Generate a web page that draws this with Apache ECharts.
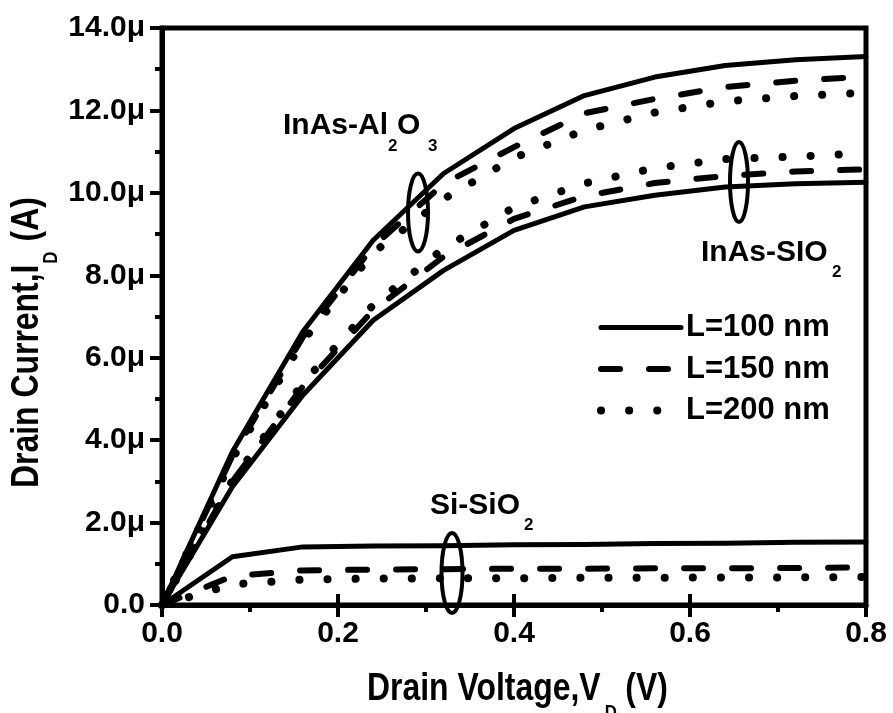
<!DOCTYPE html>
<html>
<head>
<meta charset="utf-8">
<script src="https://cdn.jsdelivr.net/npm/echarts@6/dist/echarts.min.js"></script>
<style>
html,body{margin:0;padding:0;background:#fff;}
#chart{width:893px;height:713px;}
</style>
</head>
<body>
<div id="chart"></div>
<script>
// Drain voltage (V)
const voltage = [0, 0.08, 0.16, 0.24, 0.32, 0.40, 0.48, 0.56, 0.64, 0.72, 0.80];
// Drain current (μA)
const inasAl2o3_L100 = [0, 3.72, 6.63, 8.85, 10.47, 11.56, 12.36, 12.81, 13.09, 13.23, 13.31];
const inasAl2o3_L150 = [0, 3.62, 6.50, 8.70, 10.22, 11.11, 11.93, 12.28, 12.57, 12.72, 12.82];
const inasAl2o3_L200 = [0, 3.55, 6.40, 8.55, 9.85, 10.85, 11.52, 11.95, 12.22, 12.35, 12.43];
const inasSio2_L100 = [0, 2.87, 5.09, 6.91, 8.12, 9.09, 9.66, 9.94, 10.14, 10.22, 10.26];
const inasSio2_L150 = [0, 3.00, 5.30, 7.15, 8.45, 9.37, 9.92, 10.24, 10.41, 10.52, 10.57];
const inasSio2_L200 = [0, 3.02, 5.38, 7.28, 8.65, 9.65, 10.23, 10.60, 10.82, 10.88, 10.96];
const siSio2_L100 = [0, 1.17, 1.41, 1.43, 1.44, 1.46, 1.47, 1.49, 1.50, 1.52, 1.53];
const siSio2_L150 = [0, 0.70, 0.84, 0.86, 0.87, 0.88, 0.88, 0.89, 0.89, 0.90, 0.91];
const siSio2_L200 = [0, 0.50, 0.62, 0.64, 0.65, 0.65, 0.66, 0.66, 0.67, 0.67, 0.68];

const legendNames = ['L=100 nm', 'L=150 nm', 'L=200 nm'];
const xTickValues = [0, 0.2, 0.4, 0.6, 0.8];
const yTickValues = [0, 2, 4, 6, 8, 10, 12, 14];

const FONT = '"Liberation Sans", Arial, Helvetica, sans-serif';

const styles = [
  {color: '#000', width: 5, type: 'solid', cap: 'round', join: 'round'},
  {color: '#000', width: 6, type: [19, 29], cap: 'round', join: 'round'},
  {color: '#000', width: 8, type: [0.1, 28], cap: 'round', join: 'round'}
];

function mk(name, arr, st) {
  return {
    name: name, type: 'line', symbol: 'none', showSymbol: false,
    data: voltage.map((v, i) => [v, arr[i]]),
    lineStyle: st, itemStyle: {color: '#000'}, z: 3, animation: false
  };
}

const groups = [
  [inasAl2o3_L100, inasAl2o3_L150, inasAl2o3_L200],
  [inasSio2_L100, inasSio2_L150, inasSio2_L200],
  [siSio2_L100, siSio2_L150, siSio2_L200]
];
const series = [];
groups.forEach(g => g.forEach((arr, k) => series.push(mk(legendNames[k], arr, styles[k]))));

const chart = echarts.init(document.getElementById('chart'), null, {renderer: 'canvas'});

const labelFont = {fontFamily: FONT, fontWeight: 'bold', fill: '#000'};
function txt(x, y, s, size, extra) {
  return Object.assign({type: 'text', x: x, y: y, z: 20,
    style: Object.assign({text: s, fontSize: size, align: 'left', verticalAlign: 'middle'}, labelFont)}, extra || {});
}
function ell(cx, cy, rx, ry) {
  return {type: 'ellipse', z: 20, shape: {cx: cx, cy: cy, rx: rx, ry: ry},
    style: {fill: 'none', stroke: '#000', lineWidth: 4}};
}

const option = {
  animation: false,
  backgroundColor: '#fff',
  grid: {left: 162, top: 28, width: 704, height: 577, show: true, borderColor: '#000', borderWidth: 5,
    backgroundColor: 'transparent', containLabel: false, outerBoundsMode: 'none'},
  xAxis: [{
    type: 'value', min: 0, max: 0.8, interval: 0.2, position: 'bottom',
    axisLine: {show: true, onZero: false, lineStyle: {color: '#000', width: 5}},
    axisTick: {show: true, inside: false, length: 12, lineStyle: {color: '#000', width: 4}},
    minorTick: {show: true, splitNumber: 2, length: 7, lineStyle: {color: '#000', width: 4}},
    axisLabel: {margin: 14, color: '#000', fontFamily: FONT, fontWeight: 'bold', fontSize: 30,
      formatter: v => v.toFixed(1)},
    splitLine: {show: false}, minorSplitLine: {show: false}
  }, {
    type: 'value', min: 0, max: 0.8, interval: 0.2, position: 'top', offset: -577,
    axisLine: {show: false},
    axisTick: {show: true, inside: false, length: 11, lineStyle: {color: '#000', width: 4}},
    axisLabel: {show: false}, splitLine: {show: false}
  }],
  yAxis: {
    type: 'value', min: 0, max: 14, interval: 2,
    axisLine: {show: true, onZero: false, lineStyle: {color: '#000', width: 5}},
    axisTick: {show: true, inside: false, length: 12, lineStyle: {color: '#000', width: 4}},
    minorTick: {show: true, splitNumber: 2, length: 7, lineStyle: {color: '#000', width: 4}},
    axisLabel: {margin: 17, color: '#000', fontFamily: FONT, fontWeight: 'bold', fontSize: 30,
      formatter: v => v === 0 ? '0.0' : v.toFixed(1) + 'μ'},
    splitLine: {show: false}, minorSplitLine: {show: false}
  },
  legend: {
    orient: 'vertical', left: 597, top: 312, padding: 0, itemWidth: 80, itemHeight: 14, itemGap: 10.5,
    data: legendNames, selectedMode: false,
    textStyle: {fontFamily: FONT, fontWeight: 'bold', fontSize: 31, color: '#000', lineHeight: 30},
    lineStyle: {width: 'inherit', type: 'inherit', cap: 'inherit', color: '#000'},
    itemStyle: {opacity: 0}
  },
  series: series,
  graphic: [
    ell(418, 212.5, 10, 39),
    ell(739, 182, 9, 40),
    ell(452, 573, 10.5, 40),
    txt(283, 126, 'InAs-Al', 30),
    txt(388, 146, '2', 17),
    txt(397, 126, 'O', 30),
    txt(428, 146, '3', 17),
    txt(701, 252.5, 'InAs-SIO', 30),
    txt(832, 272, '2', 17),
    txt(430, 505.5, 'Si-SiO', 30),
    txt(524, 525, '2', 17),
    {type: 'group', x: 367, y: 689.5, scaleX: 0.84, z: 20, children: [
      txt(0, 0, 'Drain Voltage,V', 38),
      txt(283, 24, 'D', 20),
      txt(297, 0, ' (V)', 38)
    ]},
    {type: 'group', x: 27.5, y: 488, rotation: Math.PI / 2, scaleX: 0.84, z: 20, children: [
      txt(0, 0, 'Drain Current,I', 38),
      txt(267, 24, 'D', 20),
      txt(283, 0, ' (A)', 38)
    ]}
  ]
};
chart.setOption(option);
</script>
</body>
</html>
